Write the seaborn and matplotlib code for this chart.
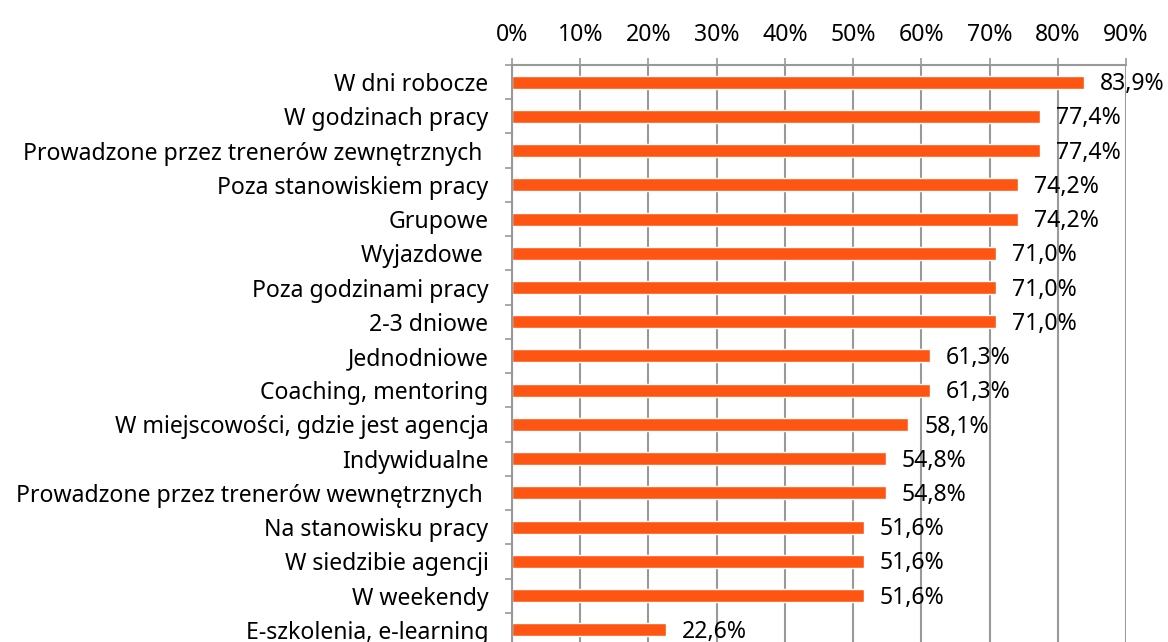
import matplotlib
matplotlib.use("Agg")
import matplotlib.pyplot as plt
from matplotlib.ticker import FixedLocator, PercentFormatter
import seaborn as sns
import pandas as pd

categories = [
    "W dni robocze",
    "W godzinach pracy",
    "Prowadzone przez trenerów zewnętrznych ",
    "Poza stanowiskiem pracy",
    "Grupowe",
    "Wyjazdowe ",
    "Poza godzinami pracy",
    "2-3 dniowe",
    "Jednodniowe",
    "Coaching, mentoring",
    "W miejscowości, gdzie jest agencja",
    "Indywidualne",
    "Prowadzone przez trenerów wewnętrznych ",
    "Na stanowisku pracy",
    "W siedzibie agencji",
    "W weekendy",
    "E-szkolenia, e-learning",
]
values = [83.9, 77.4, 77.4, 74.2, 74.2, 71.0, 71.0, 71.0, 61.3, 61.3,
          58.1, 54.8, 54.8, 51.6, 51.6, 51.6, 22.6]
x_ticks = [0, 10, 20, 30, 40, 50, 60, 70, 80, 90]

df = pd.DataFrame({"kategoria": categories, "wartosc": values})

sns.set_theme(style="white")
plt.rcParams["font.family"] = ["Noto Sans", "DejaVu Sans"]

fig = plt.figure(figsize=(11.68, 6.42), dpi=100)
ax = fig.add_axes([0.4384, -0.0078, 0.5257, 0.9066])

bar_color = "#FF5513"
grid_color = "#999999"
fs = 16.6

sns.barplot(data=df, x="wartosc", y="kategoria", orient="h",
            color=bar_color, saturation=1, width=0.38, ax=ax)

ax.set_xlim(0, 90)
ax.set_ylim(len(categories) - 0.5, -0.5)
ax.set_xlabel("")
ax.set_ylabel("")

ax.xaxis.set_major_locator(FixedLocator(x_ticks))
ax.xaxis.set_major_formatter(PercentFormatter(decimals=0))
ax.xaxis.tick_top()
ax.tick_params(axis="x", which="major", top=True, bottom=False, length=5,
               width=1.2, color=grid_color, pad=8, labelsize=fs,
               labelcolor="#000000")
ax.grid(axis="x", color=grid_color, linewidth=1.5)
ax.set_axisbelow(True)

# category separators as small ticks on the left
ax.yaxis.set_minor_locator(FixedLocator([i + 0.5 for i in range(-1, len(categories))]))
ax.tick_params(axis="y", which="major", length=0, pad=17, labelsize=fs,
               labelcolor="#000000")
ax.tick_params(axis="y", which="minor", left=True, length=5, width=1.2,
               color=grid_color)

for side in ["right", "bottom"]:
    ax.spines[side].set_visible(False)
for side in ["top", "left"]:
    ax.spines[side].set_visible(True)
    ax.spines[side].set_color(grid_color)
    ax.spines[side].set_linewidth(1.5)

for i, v in enumerate(values):
    ax.text(v + 2.3, i + 0.06, f"{v:.1f}%".replace(".", ","),
            va="center", ha="left", fontsize=fs, color="#000000",
            clip_on=False)

fig.savefig("out.png", dpi=100)
